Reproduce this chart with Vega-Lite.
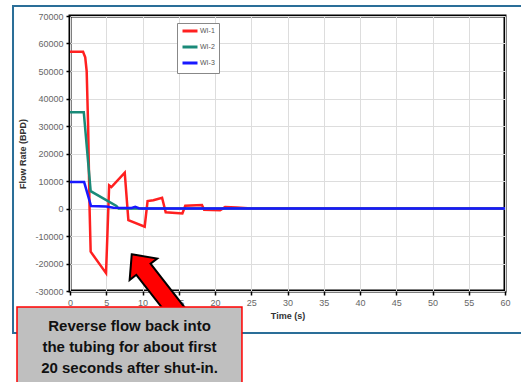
{
  "$schema": "https://vega.github.io/schema/vega-lite/v6.json",
  "width": 435,
  "height": 275,
  "autosize": {"type": "none"},
  "padding": {"left": 70, "top": 16, "right": 16, "bottom": 91},
  "background": "white",
  "config": {
    "view": {"stroke": "#000000", "strokeWidth": 3, "fill": "white"},
    "font": "Liberation Sans",
    "axis": {"labelOverlap": false, "labelFlush": false}
  },
  "datasets": {
    "flow": [
      {"t": 0, "v": 57000, "s": "WI-1"},
      {"t": 1.8, "v": 57000, "s": "WI-1"},
      {"t": 2.1, "v": 55000, "s": "WI-1"},
      {"t": 2.3, "v": 50000, "s": "WI-1"},
      {"t": 2.5, "v": 30000, "s": "WI-1"},
      {"t": 2.7, "v": 0, "s": "WI-1"},
      {"t": 2.85, "v": -15700, "s": "WI-1"},
      {"t": 4.97, "v": -23500, "s": "WI-1"},
      {"t": 5.4, "v": 8400, "s": "WI-1"},
      {"t": 5.7, "v": 7800, "s": "WI-1"},
      {"t": 5.9, "v": 8300, "s": "WI-1"},
      {"t": 7.55, "v": 13000, "s": "WI-1"},
      {"t": 8.05, "v": -4200, "s": "WI-1"},
      {"t": 10.3, "v": -6600, "s": "WI-1"},
      {"t": 10.7, "v": 2700, "s": "WI-1"},
      {"t": 11.5, "v": 3000, "s": "WI-1"},
      {"t": 12.7, "v": 3900, "s": "WI-1"},
      {"t": 13.2, "v": -1400, "s": "WI-1"},
      {"t": 15.5, "v": -1800, "s": "WI-1"},
      {"t": 15.9, "v": 1000, "s": "WI-1"},
      {"t": 18.2, "v": 1300, "s": "WI-1"},
      {"t": 18.5, "v": -500, "s": "WI-1"},
      {"t": 20.7, "v": -600, "s": "WI-1"},
      {"t": 21.4, "v": 500, "s": "WI-1"},
      {"t": 23, "v": 400, "s": "WI-1"},
      {"t": 24.5, "v": 100, "s": "WI-1"},
      {"t": 25.5, "v": 0, "s": "WI-1"},
      {"t": 60, "v": 0, "s": "WI-1"},
      {"t": 0, "v": 35000, "s": "WI-2"},
      {"t": 1.9, "v": 35000, "s": "WI-2"},
      {"t": 2.85, "v": 6300, "s": "WI-2"},
      {"t": 6.4, "v": 900, "s": "WI-2"},
      {"t": 6.7, "v": 0, "s": "WI-2"},
      {"t": 60, "v": 0, "s": "WI-2"},
      {"t": 0, "v": 9600, "s": "WI-3"},
      {"t": 1.95, "v": 9600, "s": "WI-3"},
      {"t": 2.9, "v": 900, "s": "WI-3"},
      {"t": 5.0, "v": 700, "s": "WI-3"},
      {"t": 6.0, "v": 300, "s": "WI-3"},
      {"t": 8.5, "v": 200, "s": "WI-3"},
      {"t": 9.0, "v": 600, "s": "WI-3"},
      {"t": 9.5, "v": 100, "s": "WI-3"},
      {"t": 10, "v": 0, "s": "WI-3"},
      {"t": 60, "v": 0, "s": "WI-3"}
    ],
    "frame": [{"x1": -7.86, "x2": 66, "y1": 73636, "y2": -45273}],
    "box": [{"x1": -7.31, "x2": 23.72, "y1": -35818, "y2": -72000}],
    "note": [{"x": 8.21, "y": -42727, "label": "Reverse flow back into\nthe tubing for about first\n20 seconds after shut-in."}],
    "arrow": [{"x": 12.76, "y": -30982}]
  },
  "layer": [
    {
      "data": {"name": "flow"},
      "mark": {"type": "line", "strokeWidth": 2.5, "interpolate": "linear"},
      "encoding": {
        "x": {
          "field": "t", "type": "quantitative",
          "scale": {"domain": [0, 60], "nice": false, "zero": false},
          "axis": {
            "title": "Time (s)",
            "values": [0, 5, 10, 15, 20, 25, 30, 35, 40, 45, 50, 55, 60],
            "tickCount": 13,
            "labelOverlap": false,
            "domain": false,
            "grid": true, "gridColor": "#dddddd", "gridWidth": 1,
            "ticks": true, "tickSize": 4, "tickColor": "#000000", "tickWidth": 1.5,
            "labelFontSize": 9, "labelColor": "#666666", "labelPadding": 3,
            "titleFontSize": 9, "titleFontWeight": "bold", "titleColor": "#333333", "titlePadding": 4
          }
        },
        "y": {
          "field": "v", "type": "quantitative",
          "scale": {"domain": [-30000, 70000], "nice": false, "zero": false},
          "axis": {
            "title": "Flow Rate (BPD)",
            "values": [-30000, -20000, -10000, 0, 10000, 20000, 30000, 40000, 50000, 60000, 70000],
            "tickCount": 11,
            "labelExpr": "'' + datum.value",
            "labelOverlap": false,
            "domain": false,
            "grid": true, "gridColor": "#dddddd", "gridWidth": 1,
            "ticks": true, "tickSize": 4, "tickColor": "#000000", "tickWidth": 1.5,
            "labelFontSize": 9, "labelColor": "#666666", "labelPadding": 3,
            "titleFontSize": 9, "titleFontWeight": "bold", "titleColor": "#333333", "titlePadding": 7
          }
        },
        "color": {
          "field": "s", "type": "nominal",
          "scale": {"domain": ["WI-1", "WI-2", "WI-3"], "range": ["#ff2020", "#1a8a78", "#1818ff"]},
          "legend": {
            "title": null,
            "orient": "none",
            "legendX": 107,
            "legendY": 7,
            "strokeColor": "#888888",
            "fillColor": "white",
            "padding": 4,
            "symbolType": "M-1,0 L5,0",
            "symbolStrokeWidth": 3,
            "symbolSize": 25,
            "labelFontSize": 7,
            "labelColor": "#555555",
            "labelOffset": 11,
            "rowPadding": 4
          }
        }
      }
    },
    {
      "data": {"name": "frame"},
      "mark": {"type": "rect", "fill": null, "filled": false, "stroke": "#2a6e98", "strokeWidth": 2, "clip": false},
      "encoding": {
        "x": {"field": "x1", "type": "quantitative"},
        "x2": {"field": "x2"},
        "y": {"field": "y1", "type": "quantitative"},
        "y2": {"field": "y2"}
      }
    },
    {
      "data": {"name": "arrow"},
      "mark": {
        "type": "point",
        "shape": "M0,-1 L0.35,-0.62 L0.18,-0.62 L0.18,1 L-0.18,1 L-0.18,-0.62 L-0.35,-0.62 Z",
        "size": 10000,
        "angle": 322,
        "filled": true,
        "fill": "#ff0000",
        "stroke": "#000000",
        "strokeWidth": 2,
        "opacity": 1,
        "fillOpacity": 1,
        "clip": false
      },
      "encoding": {
        "x": {"field": "x", "type": "quantitative"},
        "y": {"field": "y", "type": "quantitative"}
      }
    },
    {
      "data": {"name": "box"},
      "mark": {"type": "rect", "fill": "#bfbfbf", "stroke": "#ff0000", "strokeWidth": 1.5, "clip": false},
      "encoding": {
        "x": {"field": "x1", "type": "quantitative"},
        "x2": {"field": "x2"},
        "y": {"field": "y1", "type": "quantitative"},
        "y2": {"field": "y2"}
      }
    },
    {
      "data": {"name": "note"},
      "mark": {"type": "text", "lineBreak": "\n", "lineHeight": 21, "fontSize": 15, "fontWeight": "bold", "font": "Liberation Sans", "color": "#111111", "align": "center", "baseline": "middle", "clip": false},
      "encoding": {
        "x": {"field": "x", "type": "quantitative"},
        "y": {"field": "y", "type": "quantitative"},
        "text": {"field": "label"}
      }
    }
  ]
}
